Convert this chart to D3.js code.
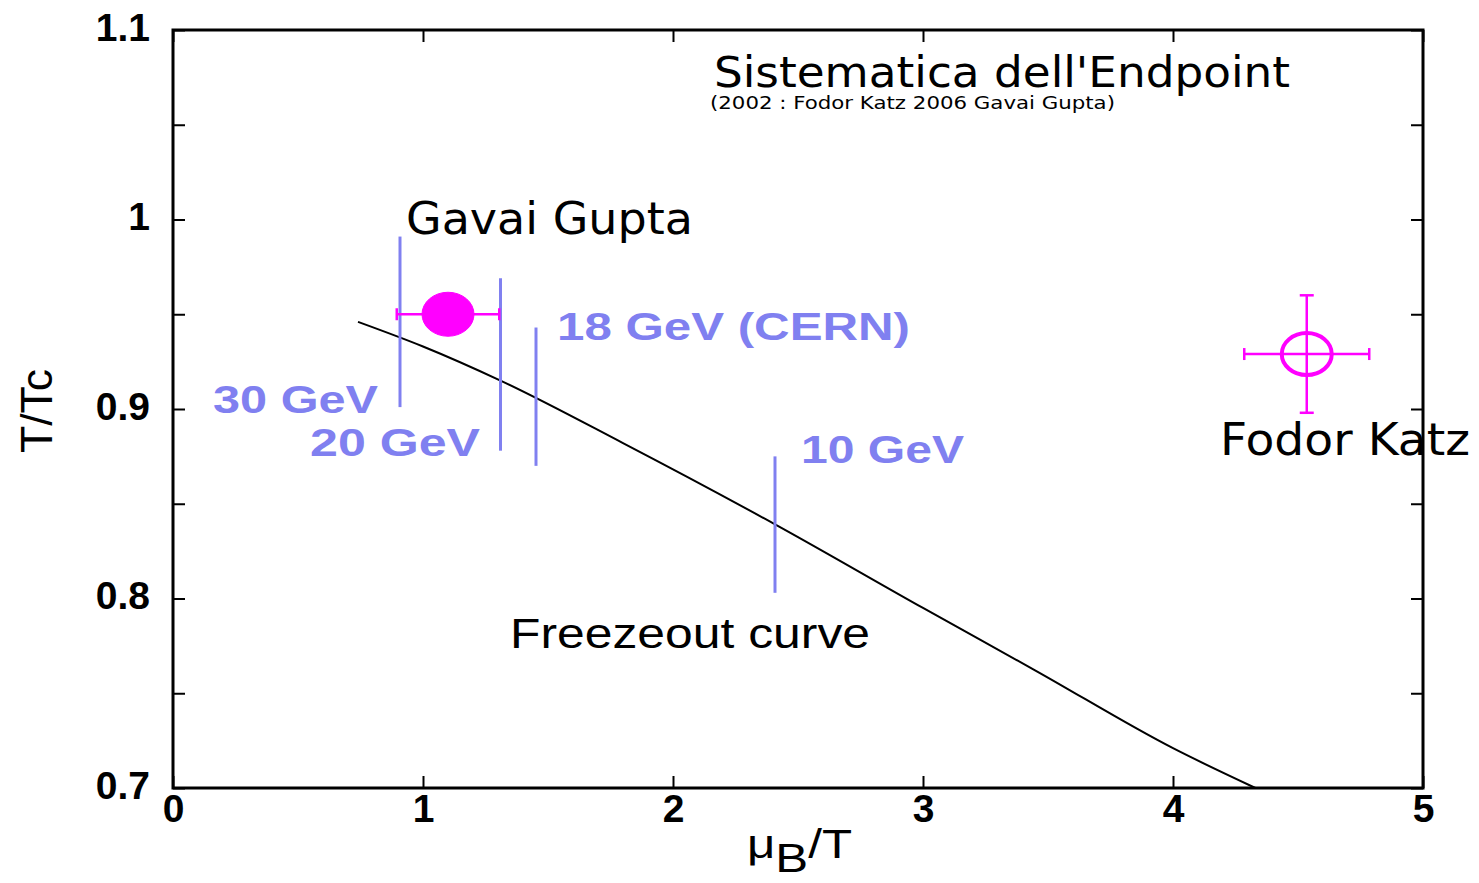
<!DOCTYPE html>
<html>
<head>
<meta charset="utf-8">
<script src="https://cdn.jsdelivr.net/npm/d3@7/dist/d3.min.js"></script>
<style>
  html, body { margin: 0; padding: 0; background: #fff; }
  svg { display: block; }
</style>
</head>
<body>
<svg id="chart" width="1479" height="883"></svg>
<script>
// ---------------- DATA ----------------
const xTickValues = [0, 1, 2, 3, 4, 5];
const xTickLabels = ["0", "1", "2", "3", "4", "5"];
const yTickValues = [0.7, 0.75, 0.8, 0.85, 0.9, 0.95, 1.0, 1.05, 1.1];
const yTickLabels = ["0.7", "", "0.8", "", "0.9", "", "1", "", "1.1"];

// Freezeout curve (muB/T, T/Tc)
const freezeoutMu = [0.74, 1.00, 1.31, 1.80, 2.41, 3.00, 3.45, 4.00, 4.33];
const freezeoutT  = [0.946, 0.933, 0.915, 0.882, 0.839, 0.795, 0.762, 0.721, 0.700];

// Beam-energy bands (vertical lines)
const energyNames = ["30 GeV", "20 GeV", "18 GeV (CERN)", "10 GeV"];
const energyMu    = [0.908, 1.31, 1.452, 2.408];
const energyTlo   = [0.901, 0.878, 0.870, 0.803];
const energyThi   = [0.991, 0.969, 0.943, 0.875];

// Critical endpoint estimates
const pointNames  = ["Gavai Gupta", "Fodor Katz"];
const pointMu     = [1.10, 4.535];
const pointT      = [0.950, 0.929];
const pointMuErr  = [0.205, 0.25];
const pointTErr   = [0, 0.031];
const pointFilled = [true, false];

// ---------------- LAYOUT ----------------
const svg = d3.select("#chart");
const L = 173, R = 1423, T = 30, B = 788;
const x = d3.scaleLinear().domain([0, 5]).range([L, R]);
const y = d3.scaleLinear().domain([0.7, 1.1]).range([B, T]);

const BLUE = "#8080f0", MAG = "#ff00ff";
const SANS = "'Liberation Sans', Arial, Helvetica, sans-serif";
const LUCIDA = "'DejaVu Sans', Verdana, sans-serif";

// Axes
const gB = svg.append("g").attr("transform", `translate(0,${B})`)
  .call(d3.axisBottom(x).tickValues(xTickValues).tickFormat((d, i) => xTickLabels[i]).tickSizeInner(-12).tickSizeOuter(0));
const gTop = svg.append("g").attr("transform", `translate(0,${T})`)
  .call(d3.axisTop(x).tickValues(xTickValues).tickFormat("").tickSizeInner(-12).tickSizeOuter(0));
const gL = svg.append("g").attr("transform", `translate(${L},0)`)
  .call(d3.axisLeft(y).tickValues(yTickValues).tickFormat((d, i) => yTickLabels[i]).tickSizeInner(-12).tickSizeOuter(0));
const gR = svg.append("g").attr("transform", `translate(${R},0)`)
  .call(d3.axisRight(y).tickValues(yTickValues).tickFormat("").tickSizeInner(-12).tickSizeOuter(0));

[gB, gTop, gL, gR].forEach(g => {
  g.select(".domain").remove();
  g.selectAll(".tick line").attr("stroke", "#000").attr("stroke-width", 2);
});
gB.selectAll(".tick text")
  .attr("y", 34).attr("dy", 0)
  .attr("font-family", SANS).attr("font-weight", "bold").attr("font-size", 39).attr("fill", "#000");
gL.selectAll(".tick text")
  .attr("x", -23).attr("dy", 10)
  .attr("font-family", SANS).attr("font-weight", "bold").attr("font-size", 39).attr("fill", "#000");

// Frame
svg.append("rect")
  .attr("x", x(0)).attr("y", y(1.1))
  .attr("width", x(5) - x(0)).attr("height", y(0.7) - y(1.1))
  .attr("fill", "none").attr("stroke", "#000").attr("stroke-width", 3);

// Axis titles
const xt = svg.append("text")
  .attr("x", 747).attr("y", 858)
  .attr("font-family", SANS).attr("font-size", 40).attr("fill", "#000")
  .attr("textLength", 105).attr("lengthAdjust", "spacingAndGlyphs");
xt.append("tspan").text("\u03BC");
xt.append("tspan").attr("dy", 14).text("B");
xt.append("tspan").attr("dy", -14).text("/T");

svg.append("text")
  .attr("transform", "translate(52,411) rotate(-90)")
  .attr("text-anchor", "middle")
  .attr("font-family", SANS).attr("font-size", 44).attr("fill", "#000")
  .attr("textLength", 84).attr("lengthAdjust", "spacingAndGlyphs")
  .text("T/Tc");

// Freezeout curve
const fz = freezeoutMu.map((m, i) => [m, freezeoutT[i]]);
svg.append("path")
  .datum(fz)
  .attr("d", d3.line().x(d => x(d[0])).y(d => y(d[1])).curve(d3.curveMonotoneX))
  .attr("fill", "none").attr("stroke", "#000").attr("stroke-width", 2);

// Energy lines
svg.append("g").selectAll("line")
  .data(energyMu)
  .join("line")
  .attr("x1", d => x(d)).attr("x2", d => x(d))
  .attr("y1", (d, i) => y(energyThi[i])).attr("y2", (d, i) => y(energyTlo[i]))
  .attr("stroke", BLUE).attr("stroke-width", 3);

// Endpoint error bars + markers
const pg = svg.append("g");
pointMu.forEach((m, i) => {
  const cx = x(m), cy = y(pointT[i]);
  pg.append("line").attr("x1", x(m - pointMuErr[i])).attr("x2", x(m + pointMuErr[i]))
    .attr("y1", cy).attr("y2", cy).attr("stroke", MAG).attr("stroke-width", 2.5);
  [m - pointMuErr[i], m + pointMuErr[i]].forEach(e => {
    pg.append("line").attr("x1", x(e)).attr("x2", x(e)).attr("y1", cy - 6).attr("y2", cy + 6)
      .attr("stroke", MAG).attr("stroke-width", 2.5);
  });
  if (pointTErr[i] > 0) {
    pg.append("line").attr("x1", cx).attr("x2", cx)
      .attr("y1", y(pointT[i] + pointTErr[i])).attr("y2", y(pointT[i] - pointTErr[i]))
      .attr("stroke", MAG).attr("stroke-width", 2.5);
    [pointT[i] - pointTErr[i], pointT[i] + pointTErr[i]].forEach(e => {
      pg.append("line").attr("x1", cx - 7).attr("x2", cx + 7).attr("y1", y(e)).attr("y2", y(e))
        .attr("stroke", MAG).attr("stroke-width", 2.5);
    });
  }
  pg.append("ellipse").attr("cx", cx).attr("cy", cy)
    .attr("rx", pointFilled[i] ? 26 : 25).attr("ry", pointFilled[i] ? 22 : 21)
    .attr("fill", pointFilled[i] ? MAG : "none")
    .attr("stroke", MAG).attr("stroke-width", pointFilled[i] ? 1 : 4);
});

// Annotations (positions in data coordinates)
function label(txt, mu, t, len, opts) {
  svg.append("text")
    .attr("x", x(mu)).attr("y", y(t))
    .attr("font-family", opts.font).attr("font-size", opts.size)
    .attr("font-weight", opts.weight || "normal")
    .attr("fill", opts.fill)
    .attr("textLength", len).attr("lengthAdjust", "spacingAndGlyphs")
    .text(txt);
}
const energyLabelPos = [[0.160, 0.8979, 165], [0.548, 0.8752, 170], [1.536, 0.9364, 353], [2.512, 0.8715, 163]];
energyNames.forEach((n, i) => {
  const p = energyLabelPos[i];
  label(n, p[0], p[1], p[2], { font: SANS, size: 39, fill: BLUE, weight: "bold" });
});
label(pointNames[0], 0.932, 0.9923, 287, { font: LUCIDA, size: 45, fill: "#000" });
label(pointNames[1], 4.188, 0.8757, 250, { font: LUCIDA, size: 45, fill: "#000" });
label("Freezeout curve", 1.348, 0.7739, 360, { font: SANS, size: 43, fill: "#000" });
label("Sistematica dell'Endpoint", 2.164, 1.0699, 576, { font: LUCIDA, size: 42, fill: "#000" });
label("(2002 : Fodor Katz 2006 Gavai Gupta)", 2.148, 1.0585, 405, { font: LUCIDA, size: 18, fill: "#000" });
</script>
</body>
</html>
